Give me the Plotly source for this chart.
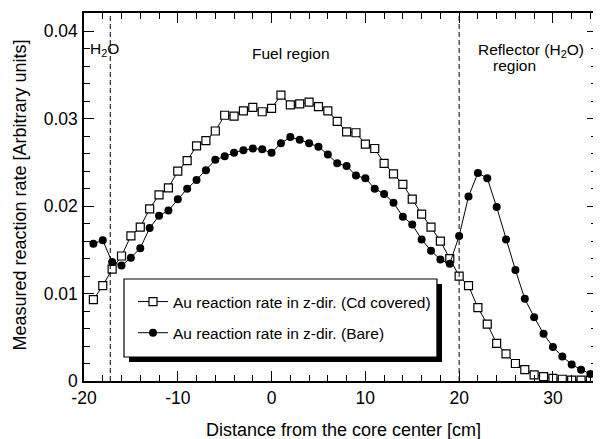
import plotly.graph_objects as go

# positions along z-direction [cm]
distance_cm = list(range(-19, 35))

# Au reaction rate, Cd covered (open squares)
cd_covered = [
    0.0093, 0.0109, 0.0128, 0.0143, 0.0166, 0.0176, 0.0197, 0.0213, 0.0221, 0.0240,
    0.0252, 0.0269, 0.0275, 0.0286, 0.0304, 0.0303, 0.0309, 0.0313, 0.0308, 0.0312,
    0.0327, 0.0316, 0.0317, 0.0319, 0.0314, 0.0309, 0.0297, 0.0285, 0.0284, 0.0271,
    0.0266, 0.0249, 0.0237, 0.0225, 0.0208, 0.0191, 0.0176, 0.0160, 0.0140, 0.0120,
    0.0109, 0.0084, 0.0065, 0.0043, 0.0031, 0.0020, 0.0013, 0.0007, 0.0005, 0.0003,
    0.0002, 0.0001, 0.0001, 0.0001,
]

# Au reaction rate, bare (filled circles)
bare = [
    0.0157, 0.0161, 0.0136, 0.0132, 0.0141, 0.0152, 0.0175, 0.0189, 0.0195, 0.0208,
    0.0220, 0.0230, 0.0241, 0.0253, 0.0257, 0.0261, 0.0264, 0.0266, 0.0265, 0.0261,
    0.0272, 0.0279, 0.0276, 0.0272, 0.0268, 0.0259, 0.0249, 0.0246, 0.0235, 0.0232,
    0.0220, 0.0214, 0.0204, 0.0188, 0.0179, 0.0162, 0.0149, 0.0139, 0.0134, 0.0166,
    0.0211, 0.0238, 0.0232, 0.0199, 0.0162, 0.0127, 0.0094, 0.0073, 0.0054, 0.0039,
    0.0028, 0.0019, 0.0013, 0.0008,
]

# region boundaries [cm]
boundaries = [-17.2, 20]

x_ticks = [-20, -10, 0, 10, 20, 30]
x_tick_labels = ["-20", "-10", "0", "10", "20", "30"]
y_ticks = [0, 0.01, 0.02, 0.03, 0.04]
y_tick_labels = ["0", "0.01", "0.02", "0.03", "0.04"]

FONT = "Liberation Sans, Arial, sans-serif"

fig = go.Figure()
fig.add_trace(go.Scatter(
    x=distance_cm, y=cd_covered, mode="lines+markers",
    name="Au reaction rate in z-dir. (Cd covered)", legendgroup="a",
    line=dict(color="black", width=1),
    marker=dict(symbol="square", size=8, color="white", line=dict(width=1.2, color="black")),
))
fig.add_trace(go.Scatter(
    x=distance_cm, y=bare, mode="lines+markers",
    name="Au reaction rate in z-dir. (Bare)", legendgroup="b",
    line=dict(color="black", width=1),
    marker=dict(symbol="circle", size=8, color="black"),
))

for b in boundaries:
    fig.add_shape(type="line", xref="x", yref="paper", x0=b, x1=b, y0=0, y1=1,
                  line=dict(color="black", width=1, dash="5px,3px"))

# legend frame
fig.add_shape(type="rect", xref="paper", yref="paper",
              x0=0.078, x1=0.688, y0=0.0652, y1=0.2772,
              fillcolor="white", line=dict(width=1.2, color="black"), layer="above")
# drop shadow: bottom band and right band
fig.add_shape(type="rect", xref="paper", yref="paper",
              x0=0.0877, x1=0.6979, y0=0.0516, y1=0.0652,
              fillcolor="black", line=dict(width=0), layer="above")
fig.add_shape(type="rect", xref="paper", yref="paper",
              x0=0.688, x1=0.6979, y0=0.0516, y1=0.2636,
              fillcolor="black", line=dict(width=0), layer="above")

ann_font = dict(size=15.5, color="black", family=FONT)
fig.add_annotation(x=0.0072, y=0.902, xref="paper", yref="paper", text="H<sub>2</sub>O",
                   showarrow=False, xanchor="left", yanchor="middle", font=ann_font)
fig.add_annotation(x=0.3236, y=0.891, xref="paper", yref="paper", text="Fuel region",
                   showarrow=False, xanchor="left", yanchor="middle", font=ann_font)
fig.add_annotation(x=0.764, y=0.899, xref="paper", yref="paper", text="Reflector (H<sub>2</sub>O)",
                   showarrow=False, xanchor="left", yanchor="middle", font=ann_font)
fig.add_annotation(x=0.793, y=0.857, xref="paper", yref="paper", text="region",
                   showarrow=False, xanchor="left", yanchor="middle", font=ann_font)

# axis titles
title_font = dict(size=18, color="black", family=FONT)
fig.add_annotation(x=0.505, y=-0.1345, xref="paper", yref="paper",
                   text="Distance from the core center [cm]", showarrow=False,
                   xanchor="center", yanchor="middle", font=title_font)
fig.add_annotation(x=-0.124, y=0.505, xref="paper", yref="paper",
                   text="Measured reaction rate [Arbitrary units]", showarrow=False,
                   textangle=-90, xanchor="center", yanchor="middle", font=title_font)

axis_common = dict(
    showline=True, linecolor="black", linewidth=1.5, mirror="ticks",
    ticks="inside", ticklen=10, tickwidth=1, tickcolor="black",
    showgrid=False, zeroline=False, automargin=False,
    tickfont=dict(size=17.5, color="black", family=FONT),
)

fig.update_xaxes(
    range=[-20, 34.7], tickvals=x_ticks, ticktext=x_tick_labels,
    minor=dict(dtick=2, ticks="inside", ticklen=6, tickcolor="black", tickwidth=1),
    ticklabelstandoff=0,
    **axis_common,
)
fig.update_yaxes(
    range=[0, 0.0421], tickvals=y_ticks, ticktext=y_tick_labels,
    minor=dict(dtick=0.002, ticks="inside", ticklen=6, tickcolor="black", tickwidth=1),
    ticklabelstandoff=1,
    **axis_common,
)

# the page body adds an 8px offset, so margins are shifted to compensate
fig.update_layout(
    width=601, height=439,
    margin=dict(l=76, r=12, t=5, b=66),
    plot_bgcolor="white", paper_bgcolor="white",
    font=dict(family=FONT, color="black"),
    showlegend=True,
    legend=dict(x=0.0955, y=0.2609, xanchor="left", yanchor="top",
                bgcolor="rgba(0,0,0,0)", borderwidth=0,
                tracegroupgap=8,
                font=dict(size=15.5, color="black", family=FONT)),
)

fig.write_html("out.html")
